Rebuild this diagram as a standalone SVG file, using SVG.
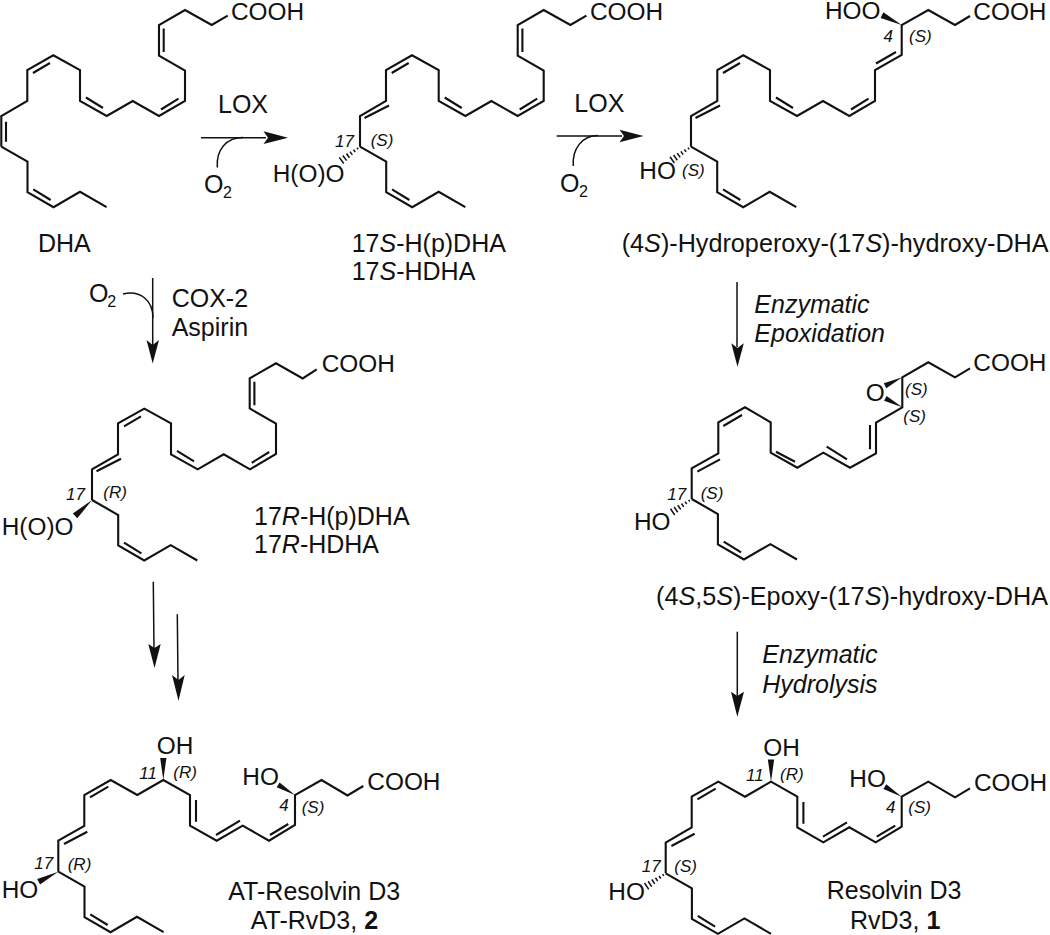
<svg xmlns="http://www.w3.org/2000/svg" width="1050" height="935" viewBox="0 0 1050 935">
<style>
text{font-family:"Liberation Sans",Arial,sans-serif;fill:#111}
.a{font-size:24.4px}
.b{font-size:25px}
.c{font-size:25.2px}
.s{font-size:16px}
.i{font-size:17px;font-style:italic}
.e{font-style:italic}
.h{font-weight:bold}
.l,.k{fill:none;stroke:#111;stroke-width:2.1;stroke-linejoin:miter;stroke-linecap:butt}
.k{stroke-width:1.5}
.f{fill:#111;stroke:none}
</style>
<defs>
<g id="tail"><path class="l" d="M0 0l26.2 15v30.5l26 15l26.5-15.4l26.6 15.4"/><path class="l" d="M32 42.6l17.4 10.7"/></g>
<g id="hash"><path class="k" d="M3-1v2M7-1.5v3M11-2v4M15-2.6v5.2M19-3.2v6.4M23-3.8v7.6"/></g>
<path id="wedge" class="f" d="M0 0L24-3.4L24 3.4Z"/>
</defs>
<g id="connectors">
<path class="k" d="M201 137.7H266"/>
<path class="f" d="M288 137.7L263.5 131.3L268 137.7L263.5 144Z"/>
<path class="k" d="M217.3 167.5C216 150 226 137.5 243 137.5"/>
<path class="k" d="M556.7 136H622"/>
<path class="f" d="M643.5 136L619.5 129.7L624 136L619.5 142.3Z"/>
<path class="k" d="M573.3 166C572 149 582 135.5 598 135.5"/>
<path class="k" d="M152.7 278V345"/>
<path class="f" d="M152.7 363.5L146.5 340L152.7 345L159 340Z"/>
<path class="k" d="M123 294C140 290 153 300 153 318"/>
<path class="k" d="M737 282V347"/>
<path class="f" d="M737.5 366.7L731.3 343.3L737.5 348L743.8 343.3Z"/>
<path class="k" d="M737.3 631.7V696"/>
<path class="f" d="M737.3 716.7L731 691.7L737.3 696L744 691.7Z"/>
<path class="k" d="M153.3 581.7L154 649"/>
<path class="f" d="M154.5 668L148.3 644L154.5 648L160.7 644Z"/>
<path class="k" d="M177.3 614.3L178 681"/>
<path class="f" d="M178.5 700.7L172 675L178.5 680L184.7 675Z"/>
</g>
<g id="dha">
<path class="l" d="M227.7 15.7L211.7 25L185 10L159 25V55.7L185 70.5V101L159 116L132.7 101L106.7 116L80 101V70L53.3 55.3L27.3 70V101L1.3 116V146.7"/>
<path class="l" d="M163.7 28.5V52M178.5 98.7L161 109.5M86 97.5L103 108M50 63L33 73M6 121.7V141.7"/>
<use href="#tail" x="1.3" y="146.7"/>
<text class="a" x="231" y="19.5">COOH</text>
</g>
<g id="hpdha-s">
<path class="l" d="M586.4 15.7L570.4 25L543.7 10L517.7 25V55.7L543.7 70.5V101L517.7 116L491.4 101L465.4 116L438.7 101V70L412 55.3L386 70V101L360 116V146.7"/>
<path class="l" d="M522.4 28.5V52M537.2 98.7L519.7 109.5M444.7 97.5L461.7 108M408.7 63L391.7 73M364.5 118L389 105.5"/>
<use href="#tail" x="360" y="146.7"/>
<use href="#hash" transform="translate(360 146.7) rotate(143.5)"/>
<text class="a" x="590" y="19.5">COOH</text>
<text class="a" x="272.7" y="181.7">H(O)O</text>
<text class="i" x="335" y="146.5">17</text>
<text class="i" x="370.7" y="146">(S)</text>
</g>
<g id="hydroperoxy">
<path class="l" d="M970 16L955 25L928.3 10L901.7 25V55L875 70V101L849.3 116L823 101L797 116L770 101V70L743.3 55.3L717.3 70V101L691 116V146.7"/>
<path class="l" d="M896 52L876 63.5M868.5 98.7L851 109.5M776 97.5L793 108M740 63L723 73M695.5 118L720 105.5"/>
<use href="#tail" x="691" y="146.7"/>
<use href="#wedge" transform="translate(901.7 25) rotate(-153.4) scale(.92)"/>
<use href="#hash" transform="translate(691 146.7) rotate(145)"/>
<text class="a" x="973.3" y="19.5">COOH</text>
<text class="a" x="825" y="19">HOO</text>
<text class="a" x="639.3" y="179">HO</text>
<text class="i" x="883.5" y="42">4</text>
<text class="i" x="909" y="41.5">(S)</text>
<text class="i" x="682" y="176">(S)</text>
</g>
<g id="hpdha-r">
<path class="l" d="M316.7 369.3L302.7 378.5L276 363.3L249.7 378.3V408.5L276 423.5V453.8L250 469.3L223.7 454.3L197.7 469.3L171 454.3V423.3L144.3 408.6L118 423.3V454.3L92 469.3V500"/>
<path class="l" d="M254.4 381.8V405.3M269.2 452L251.7 462.8M177 450.8L194 461.3M141 416.3L124 426.3M96.5 471.3L121 458.8"/>
<use href="#tail" x="92" y="500"/>
<use href="#wedge" transform="translate(92 500) rotate(136.7) scale(.97)"/>
<text class="a" x="321.7" y="372.3">COOH</text>
<text class="a" x="1.7" y="535">H(O)O</text>
<text class="i" x="66" y="500">17</text>
<text class="i" x="103.3" y="498">(R)</text>
</g>
<g id="epoxy">
<path class="l" d="M970 368.3L955 377.3L928.3 362.3L902.3 377.3V407.3L876 422.7V453.3L850 467.7L823.3 452.7L797.3 467.7L770.7 452.7V422.3L745 407.3L718.3 422.3V453.3L691.7 468.3V499"/>
<path class="l" d="M870 425V449.3M826.7 446.7L847 459.3M776 451.7L795 461.7M742 415L723.3 426M697.3 471.7L720 459.3"/>
<use href="#tail" x="691.7" y="499"/>
<use href="#wedge" transform="translate(902.3 377.3) rotate(154) scale(.8)"/>
<use href="#wedge" transform="translate(902.3 407.3) rotate(-152) scale(.8)"/>
<use href="#hash" transform="translate(691.7 499) rotate(146)"/>
<text class="a" x="973.3" y="370.7">COOH</text>
<text class="a" x="865.7" y="401">O</text>
<text class="a" x="634" y="530">HO</text>
<text class="i" x="905" y="395">(S)</text>
<text class="i" x="903.3" y="421.7">(S)</text>
<text class="i" x="667.3" y="500">17</text>
<text class="i" x="700.7" y="499">(S)</text>
</g>
<g id="rvd3-at">
<path class="l" d="M363.3 786L347.5 795.5L321.5 780L295 795V825L269 840.7L242.7 825.7L216.7 840.7L190 825.7V795L163.3 780L137.3 795L110.7 780L84.3 795V826L58.3 840.7V871.7"/>
<path class="l" d="M64 844L87.3 831.7M90 797.3L108.3 786.7M196 800V821.7M216 835L240 820.7M270 835L288.3 824"/>
<use href="#tail" x="58.3" y="871.7"/>
<use href="#wedge" transform="translate(163.3 780) rotate(-90) scale(.92)"/>
<use href="#wedge" transform="translate(295 795) rotate(-149) scale(.82)"/>
<use href="#wedge" transform="translate(58.3 871.7) rotate(153) scale(.92)"/>
<text class="a" x="367.3" y="790">COOH</text>
<text class="a" x="156.7" y="754.3">OH</text>
<text class="a" x="242.3" y="785">HO</text>
<text class="a" x="1.7" y="898.3">HO</text>
<text class="i" x="139.3" y="779">11</text>
<text class="i" x="173.3" y="778.3">(R)</text>
<text class="i" x="279.3" y="810.7">4</text>
<text class="i" x="301.7" y="813.3">(S)</text>
<text class="i" x="34.3" y="869">17</text>
<text class="i" x="67.7" y="870">(R)</text>
</g>
<g id="rvd3">
<path class="l" d="M970 788.3L955 797.3L928.3 781.7L901.7 796.7V826.7L875.7 842.3L849.3 827.3L823.3 842.3L797.3 827.3V796.7L771 781.7L745 796.7L718.3 781.7L691.7 796.7V827.3L665.7 842.7V873.3"/>
<path class="l" d="M671.4 846L694.7 833.7M697.4 799.3L715.7 788.7M803.4 802V823.7M823 836.7L847 822.4M876.7 836.7L895.3 825.7"/>
<use href="#tail" x="665.7" y="873.3"/>
<use href="#wedge" transform="translate(771 781.7) rotate(-90) scale(.92)"/>
<use href="#wedge" transform="translate(901.7 796.7) rotate(-149) scale(.82)"/>
<use href="#hash" transform="translate(665.7 873.3) rotate(146)"/>
<text class="a" x="974" y="790.7">COOH</text>
<text class="a" x="763.3" y="756">OH</text>
<text class="a" x="849.3" y="786.7">HO</text>
<text class="a" x="608.3" y="900">HO</text>
<text class="i" x="746" y="780.7">11</text>
<text class="i" x="780" y="780">(R)</text>
<text class="i" x="886" y="812.7">4</text>
<text class="i" x="908.3" y="813">(S)</text>
<text class="i" x="641.7" y="871.7">17</text>
<text class="i" x="674.3" y="871.7">(S)</text>
</g>
<g id="labels">
<text class="b" x="38" y="252.3">DHA</text>
<text class="b" x="218" y="113.3">LOX</text>
<text class="b" x="574.3" y="111.7">LOX</text>
<text class="b" x="204" y="193">O</text><text class="s" x="223" y="198.3">2</text>
<text class="b" x="560" y="191.7">O</text><text class="s" x="579" y="197">2</text>
<text class="b" x="89" y="301.7">O</text><text class="s" x="107.3" y="306.7">2</text>
<text class="b" x="171.7" y="306.7">COX-2</text>
<text class="b" x="171.7" y="336">Aspirin</text>
<text class="b" x="351.7" y="251.7">17<tspan class="e">S</tspan>-H(p)DHA</text>
<text class="b" x="351.7" y="279.7">17<tspan class="e">S</tspan>-HDHA</text>
<text class="c" x="621.7" y="251.7">(4<tspan class="e">S</tspan>)-Hydroperoxy-(17<tspan class="e">S</tspan>)-hydroxy-DHA</text>
<text class="b" x="254" y="525">17<tspan class="e">R</tspan>-H(p)DHA</text>
<text class="b" x="254" y="553.3">17<tspan class="e">R</tspan>-HDHA</text>
<text class="b e" x="754.3" y="313.3">Enzymatic</text>
<text class="b e" x="754.3" y="341.7">Epoxidation</text>
<text class="c" x="656" y="605">(4<tspan class="e">S</tspan>,5<tspan class="e">S</tspan>)-Epoxy-(17<tspan class="e">S</tspan>)-hydroxy-DHA</text>
<text class="b e" x="762.3" y="663.3">Enzymatic</text>
<text class="b e" x="762.3" y="692.7">Hydrolysis</text>
<text class="b" x="228.3" y="900">AT-Resolvin D3</text>
<text class="b" x="250.7" y="929.3">AT-RvD3, <tspan class="h">2</tspan></text>
<text class="b" x="826.7" y="899.3">Resolvin D3</text>
<text class="b" x="850" y="929.3">RvD3, <tspan class="h">1</tspan></text>
</g>
</svg>
